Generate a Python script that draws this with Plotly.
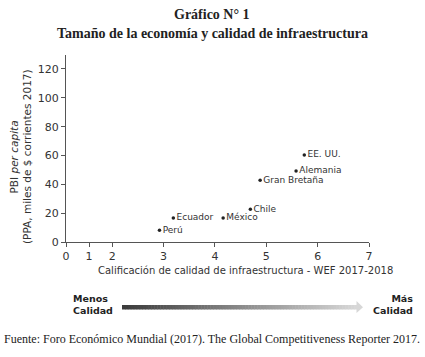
import plotly.graph_objects as go

# ---------------- data ----------------
countries = ["EE. UU.", "Alemania", "Gran Bretaña", "Chile", "Ecuador", "México", "Perú"]
infra_score = [5.74, 5.58, 4.88, 4.69, 3.19, 4.16, 2.92]
gdp_pc = [60.4, 49.3, 42.8, 22.7, 16.7, 16.7, 8.1]
x_ticks = [0, 1, 2, 3, 4, 5, 6, 7]
y_ticks = [0, 20, 40, 60, 80, 100, 120]

# the original axis is compressed between 0 and 2
def axis_scale(v):
    return v * 0.45 if v <= 2 else 0.9 + (v - 2)

W, H = 425, 357
L, R, T, B = 66, 56, 55, 115
PW, PH = W - L - R, H - T - B

def px(x):
    return (x - L) / PW

def py(y):
    return (H - B - y) / PH

TXT = "#333333"
AX = "#555555"
SANS = "DejaVu Sans"
SERIF = "Liberation Serif"

fig = go.Figure()
fig.add_trace(go.Scatter(
    x=[axis_scale(v) for v in infra_score], y=gdp_pc,
    mode="markers+text", text=countries, textposition="middle right",
    marker=dict(size=3.5, color="#222222"),
    textfont=dict(family=SANS, size=9, color=TXT),
    cliponaxis=False, hoverinfo="skip", showlegend=False))

fig.update_layout(
    width=W, height=H, margin=dict(l=L, r=R, t=T, b=B),
    paper_bgcolor="white", plot_bgcolor="white",
    font=dict(family=SANS, color=TXT),
    xaxis=dict(range=[0, axis_scale(7)], tickvals=[axis_scale(v) for v in x_ticks],
               ticktext=[str(v) for v in x_ticks], showgrid=False, zeroline=False,
               showline=True, linecolor=AX, linewidth=1.2, ticks="outside",
               ticklen=4, tickcolor=AX, tickfont=dict(size=11, color=TXT)),
    yaxis=dict(range=[0, 129.7], tickvals=y_ticks, showgrid=False, zeroline=False,
               showline=True, linecolor=AX, linewidth=1.2, ticks="outside",
               ticklen=4, tickcolor=AX, tickfont=dict(size=11, color=TXT)),
)

def note(text, x, y, size, family=SANS, color=TXT, **kw):
    return dict(text=text, x=px(x), y=py(y), xref="paper", yref="paper", showarrow=False,
                xanchor="center", yanchor="middle",
                font=dict(family=family, size=size, color=color), **kw)

ann = [
    note("<b>Gráfico N° 1</b>", 212, 14, 14, SERIF, "#222"),
    note("<b>Tamaño de la economía y calidad de infraestructura</b>", 212, 33, 14, SERIF, "#222"),
    note("Calificación de calidad de infraestructura - WEF 2017-2018", 245, 270, 10),
    note("PBI <i>per capita</i>", 13.5, 157, 10.5, textangle=-90),
    note("(PPA, miles de $ corrientes 2017)", 27, 157, 10.5, textangle=-90),
    note("<b>Menos<br>Calidad</b>", 93, 304, 9.5, color="#222", align="left"),
    note("<b>Más<br>Calidad</b>", 393, 304, 9.5, color="#222", align="right"),
    note("Fuente: Foro Económico Mundial (2017). The Global Competitiveness Reporter 2017.",
         212, 339, 12, SERIF, "#222"),
]
fig.update_layout(annotations=ann)

# gradient arrow
shapes = []
x0, x1 = 122, 357
N = 80
c0, c1 = (60, 60, 60), (215, 215, 215)
for i in range(N):
    f = i / (N - 1)
    c = tuple(int(c0[k] + (c1[k] - c0[k]) * f) for k in range(3))
    a = x0 + (x1 - x0) * i / N
    b = x0 + (x1 - x0) * (i + 1) / N + 0.5
    shapes.append(dict(type="rect", xref="paper", yref="paper", x0=px(a), x1=px(b),
                       y0=py(309.5), y1=py(305), line=dict(width=0), fillcolor="rgb(%d,%d,%d)" % c))
shapes.append(dict(type="path", xref="paper", yref="paper",
                   path="M %f %f L %f %f L %f %f Z" % (px(356.5), py(301), px(363), py(307.2), px(356.5), py(313)),
                   line=dict(width=0), fillcolor="rgb(215,215,215)"))
fig.update_layout(shapes=shapes)

fig.write_html("out.html", config={"displayModeBar": False},
               post_script="document.body.style.margin='0';document.body.style.overflow='hidden';")
